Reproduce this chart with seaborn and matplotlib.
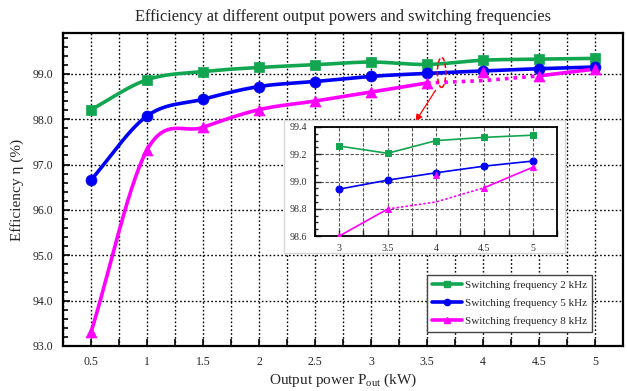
import numpy as np
import pandas as pd
import matplotlib
matplotlib.use("Agg")
import matplotlib.pyplot as plt
import seaborn as sns
from matplotlib.lines import Line2D
from matplotlib.patches import Ellipse, Rectangle, FancyArrowPatch
from matplotlib.ticker import MultipleLocator, FormatStrFormatter

# ---- data -------------------------------------------------------------
power_kw = [0.5, 1.0, 1.5, 2.0, 2.5, 3.0, 3.5, 4.0, 4.5, 5.0]
eff_2khz = [98.21, 98.87, 99.05, 99.14, 99.20, 99.26, 99.207, 99.30, 99.324, 99.34]
eff_5khz = [96.66, 98.07, 98.44, 98.72, 98.83, 98.944, 99.01, 99.064, 99.113, 99.15]
eff_8khz = [93.30, 97.32, 97.82, 98.21, 98.40, 98.60, 98.798, 99.047, 98.955, 99.105]
# 8 kHz trend between 3.5 kW and 4.5 kW (dotted bridge)
bridge_kw = [3.5, 4.0, 4.5]
bridge_8khz = [98.798, 98.85, 98.955]

labels = ["Switching frequency 2 kHz", "Switching frequency 5 kHz",
          "Switching frequency 8 kHz"]
colors = ["#13a650", "#0000f5", "#ff00ff"]
markers = ["s", "o", "^"]

# ---- style ------------------------------------------------------------
sns.set_theme(style="ticks")
plt.rcParams["font.family"] = ["Liberation Serif", "DejaVu Serif"]
plt.rcParams["mathtext.fontset"] = "custom"
plt.rcParams["mathtext.rm"] = "Liberation Serif"
plt.rcParams["mathtext.it"] = "Liberation Serif:italic"

fig = plt.figure(figsize=(6.27, 3.91), dpi=100)
ax = fig.add_axes([0.1005, 0.1151, 0.8931, 0.8005])


def smooth(x, y, n=30):
    """Cubic Hermite curve through (x, y) with finite-difference tangents."""
    x = np.asarray(x, float)
    y = np.asarray(y, float)
    m = np.empty_like(y)
    m[1:-1] = (y[2:] - y[:-2]) / (x[2:] - x[:-2])
    m[0] = (y[1] - y[0]) / (x[1] - x[0])
    m[-1] = (y[-1] - y[-2]) / (x[-1] - x[-2])
    xs, ys = [], []
    for i in range(len(x) - 1):
        h = x[i + 1] - x[i]
        t = np.linspace(0, 1, n)
        if i > 0:
            t = t[1:]
        h00 = 2 * t**3 - 3 * t**2 + 1
        h10 = t**3 - 2 * t**2 + t
        h01 = -2 * t**3 + 3 * t**2
        h11 = t**3 - t**2
        xs.append(x[i] + t * h)
        ys.append(h00 * y[i] + h10 * h * m[i] + h01 * y[i + 1] + h11 * h * m[i + 1])
    return np.concatenate(xs), np.concatenate(ys)


LW, MS = 2.6, 62

# 2 kHz and 5 kHz: smooth curves through every point
for vals, col, mk in [(eff_2khz, colors[0], markers[0]),
                      (eff_5khz, colors[1], markers[1])]:
    sx, sy = smooth(power_kw, vals)
    sns.lineplot(x=sx, y=sy, sort=False, estimator=None, ax=ax,
                 color=col, lw=LW, zorder=3)
    sns.scatterplot(x=power_kw, y=vals, ax=ax, color=col, marker=mk,
                    s=MS, edgecolor=col, linewidth=0.5, zorder=4)

# 8 kHz: solid up to 3.5 kW, dotted bridge, solid 4.5-5 kW
sx, sy = smooth(power_kw[:7], eff_8khz[:7])
sns.lineplot(x=sx, y=sy, sort=False, estimator=None, ax=ax,
             color=colors[2], lw=LW, zorder=3)
sns.lineplot(x=bridge_kw, y=bridge_8khz, sort=False, estimator=None, ax=ax,
             color=colors[2], lw=LW, ls=(0, (1.0, 1.4)), zorder=3)
sns.lineplot(x=power_kw[8:], y=eff_8khz[8:], sort=False, estimator=None,
             ax=ax, color=colors[2], lw=LW, zorder=3)
sns.scatterplot(x=power_kw, y=eff_8khz, ax=ax, color=colors[2], marker="^",
                s=MS, edgecolor=colors[2], linewidth=0.5, zorder=4)

ax.set_xlim(0.25, 5.25)
ax.set_ylim(93.0, 99.9)
ax.xaxis.set_major_locator(MultipleLocator(0.5))
ax.xaxis.set_minor_locator(MultipleLocator(0.25))
ax.xaxis.set_major_formatter(FormatStrFormatter("%g"))
ax.yaxis.set_major_locator(MultipleLocator(1.0))
ax.yaxis.set_minor_locator(MultipleLocator(0.2))
ax.yaxis.set_major_formatter(FormatStrFormatter("%.1f"))
ax.tick_params(which="both", direction="in", top=False, right=False,
               labelsize=8.5, pad=7, color="black", width=1.2)
ax.tick_params(which="major", length=5)
ax.tick_params(which="minor", length=3.5)
ax.tick_params(axis="x", which="minor", length=5)
for s in ax.spines.values():
    s.set_linewidth(1.6)
    s.set_color("black")
ax.grid(axis="x", which="both", color="black", lw=1.0, ls=(0, (1.2, 1.6)))
ax.grid(axis="y", which="major", color="black", lw=1.0, ls=(0, (1.2, 1.6)))
ax.set_axisbelow(True)

ax.set_xlabel("Output power P$_{\\mathrm{out}}$ (kW)", fontsize=11, labelpad=3)
ax.set_ylabel("Efficiency η (%)", fontsize=11, labelpad=6)
ax.set_title("Efficiency at different output powers and switching frequencies",
             fontsize=11.8, pad=9)

# highlight mark and pointer to the zoomed view
ax.add_patch(Ellipse((3.63, 99.03), 0.075, 0.66, fill=False, ec="red",
                     lw=1.1, ls=(0, (3, 1.5)), zorder=6))
ax.add_patch(FancyArrowPatch((3.59, 98.69), (3.385, 97.9),
                             arrowstyle="-|>,head_length=4,head_width=2",
                             color="red", lw=0.9, zorder=6))

# legend
handles = [Line2D([], [], color=c, lw=LW, marker=m, markersize=4.5)
           for c, m in zip(colors, markers)]
leg = ax.legend(handles, labels, loc="lower right",
                bbox_to_anchor=(0.945, 0.045), fontsize=8, frameon=True,
                fancybox=False, edgecolor="#444444", framealpha=1,
                handlelength=2.7, handletextpad=0.2, labelspacing=0.75,
                borderpad=0.5, borderaxespad=0)
leg.get_frame().set_linewidth(1.0)
leg.set_zorder(10)

# ---- zoomed view 3-5 kW ---------------------------------------------
fig.add_artist(Rectangle((0.453, 0.353), 0.448, 0.340,
                         transform=fig.transFigure, facecolor="white",
                         edgecolor="#d8d8d8", lw=1.0, zorder=5))
axi = fig.add_axes([0.5024, 0.3964, 0.386, 0.2788], zorder=6)
zoom_kw = power_kw[5:]
for vals, col, mk in [(eff_2khz[5:], colors[0], markers[0]),
                      (eff_5khz[5:], colors[1], markers[1])]:
    sns.lineplot(x=zoom_kw, y=vals, ax=axi, color=col, lw=1.2, marker=mk,
                 markersize=5, markeredgecolor=col, sort=False,
                 estimator=None, zorder=3)
sns.lineplot(x=power_kw[5:7], y=eff_8khz[5:7], ax=axi, color=colors[2],
             lw=1.2, marker="^", markersize=5, markeredgecolor=colors[2],
             sort=False, estimator=None, zorder=3)
sns.lineplot(x=bridge_kw, y=bridge_8khz, ax=axi, color=colors[2], lw=1.2,
             ls=(0, (1.5, 1.2)), sort=False, estimator=None, zorder=3)
sns.lineplot(x=power_kw[8:], y=eff_8khz[8:], ax=axi, color=colors[2],
             lw=1.2, marker="^", markersize=5, markeredgecolor=colors[2],
             sort=False, estimator=None, zorder=3)
sns.scatterplot(x=[power_kw[7]], y=[eff_8khz[7]], ax=axi, color=colors[2],
                marker="^", s=22, edgecolor=colors[2], zorder=4)

axi.set_xlim(2.75, 5.25)
axi.set_ylim(98.6, 99.4)
axi.xaxis.set_major_locator(MultipleLocator(0.5))
axi.xaxis.set_minor_locator(MultipleLocator(0.25))
axi.xaxis.set_major_formatter(FormatStrFormatter("%g"))
axi.yaxis.set_major_locator(MultipleLocator(0.2))
axi.yaxis.set_minor_locator(MultipleLocator(0.05))
axi.yaxis.set_major_formatter(FormatStrFormatter("%.1f"))
axi.tick_params(which="both", direction="in", top=False, right=False,
                labelsize=7.2, pad=6, labelcolor="#333333", width=1.0)
axi.tick_params(which="major", length=4)
axi.tick_params(which="minor", length=2.5)
axi.tick_params(axis="x", which="minor", length=4)
for s in axi.spines.values():
    s.set_linewidth(1.3)
    s.set_color("black")
axi.grid(axis="x", which="both", color="#555555", lw=0.8, ls=(0, (3, 1.5)))
axi.grid(axis="y", which="major", color="#555555", lw=0.8, ls=(0, (3, 1.5)))
axi.set_axisbelow(True)
axi.set_xlabel("")
axi.set_ylabel("")

fig.savefig("out.png", dpi=100)
